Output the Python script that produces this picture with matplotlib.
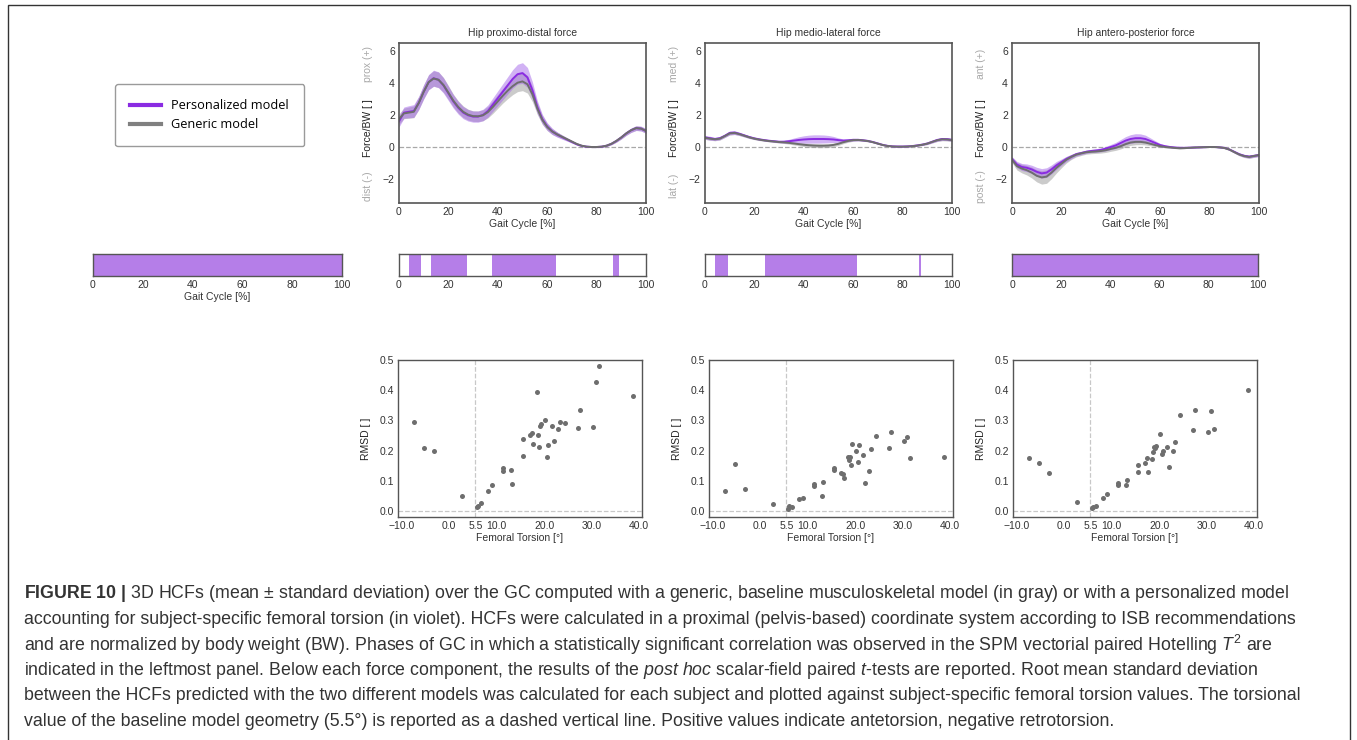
import numpy as np
import matplotlib
matplotlib.use('Agg')
import matplotlib.pyplot as plt
from matplotlib.lines import Line2D
from matplotlib.patches import Rectangle

plt.rcParams['font.family'] = ['Liberation Sans', 'DejaVu Sans']
plt.rcParams['mathtext.fontset'] = 'custom'
plt.rcParams['mathtext.rm'] = 'Liberation Sans'
plt.rcParams['mathtext.it'] = 'Liberation Sans:italic'
plt.rcParams['mathtext.bf'] = 'Liberation Sans:bold'

# gait cycle grid [%]
gait = np.arange(0, 101, 2)

# hip proximo-distal force (mean / sd), personalized and generic
pd_pers_mean = [1.60, 2.15, 2.20, 2.25, 2.75, 3.45, 4.05, 4.30, 4.20, 3.85,
                3.35, 2.85, 2.45, 2.15, 1.98, 1.90, 1.90, 2.00, 2.25, 2.65,
                3.05, 3.45, 3.85, 4.25, 4.55, 4.62, 4.35, 3.55, 2.50, 1.75,
                1.28, 0.98, 0.78, 0.62, 0.47, 0.32, 0.17, 0.07, 0.02, 0.00,
                0.00, 0.02, 0.08, 0.20, 0.38, 0.60, 0.85, 1.05, 1.18, 1.15, 1.00]
pd_pers_sd = [0.35, 0.35, 0.38, 0.40, 0.42, 0.45, 0.48, 0.50, 0.50, 0.48,
              0.45, 0.42, 0.40, 0.38, 0.36, 0.35, 0.35, 0.36, 0.38, 0.42,
              0.46, 0.50, 0.54, 0.58, 0.62, 0.65, 0.62, 0.52, 0.40, 0.30,
              0.24, 0.20, 0.16, 0.13, 0.10, 0.08, 0.06, 0.05, 0.04, 0.04,
              0.04, 0.04, 0.05, 0.06, 0.08, 0.10, 0.12, 0.14, 0.15, 0.15, 0.15]
pd_gen_mean = [1.75, 2.10, 2.15, 2.20, 2.75, 3.45, 4.05, 4.28, 4.20, 3.88,
               3.40, 2.90, 2.50, 2.20, 2.02, 1.93, 1.92, 1.98, 2.18, 2.50,
               2.85, 3.20, 3.52, 3.80, 4.02, 4.10, 3.92, 3.30, 2.40, 1.70,
               1.25, 0.97, 0.79, 0.64, 0.49, 0.34, 0.19, 0.08, 0.02, 0.00,
               0.00, 0.02, 0.08, 0.20, 0.38, 0.60, 0.85, 1.05, 1.18, 1.15, 1.00]
pd_gen_sd = [0.32, 0.33, 0.35, 0.37, 0.40, 0.43, 0.46, 0.48, 0.48, 0.46,
             0.43, 0.40, 0.38, 0.36, 0.34, 0.33, 0.33, 0.34, 0.36, 0.40,
             0.43, 0.46, 0.50, 0.53, 0.56, 0.58, 0.55, 0.47, 0.37, 0.28,
             0.22, 0.18, 0.15, 0.12, 0.10, 0.08, 0.06, 0.05, 0.04, 0.04,
             0.04, 0.04, 0.05, 0.06, 0.08, 0.10, 0.12, 0.13, 0.14, 0.14, 0.14]

# hip medio-lateral force
ml_pers_mean = [0.60, 0.55, 0.50, 0.55, 0.70, 0.88, 0.90, 0.82, 0.72, 0.62,
                0.54, 0.48, 0.43, 0.39, 0.36, 0.33, 0.33, 0.36, 0.40, 0.44,
                0.47, 0.49, 0.50, 0.50, 0.50, 0.49, 0.47, 0.43, 0.40, 0.42,
                0.45, 0.45, 0.42, 0.38, 0.31, 0.22, 0.13, 0.07, 0.04, 0.03,
                0.03, 0.04, 0.06, 0.10, 0.15, 0.22, 0.33, 0.44, 0.50, 0.49, 0.45]
ml_pers_sd = [0.12, 0.12, 0.10, 0.10, 0.10, 0.12, 0.12, 0.10, 0.09, 0.08,
              0.07, 0.06, 0.06, 0.06, 0.06, 0.07, 0.09, 0.12, 0.16, 0.20,
              0.23, 0.25, 0.26, 0.26, 0.25, 0.23, 0.19, 0.14, 0.10, 0.09,
              0.08, 0.07, 0.06, 0.05, 0.04, 0.04, 0.03, 0.03, 0.03, 0.03,
              0.03, 0.03, 0.03, 0.04, 0.05, 0.06, 0.07, 0.08, 0.09, 0.09, 0.09]
ml_gen_mean = [0.58, 0.52, 0.48, 0.52, 0.68, 0.85, 0.88, 0.80, 0.70, 0.60,
               0.52, 0.46, 0.41, 0.37, 0.34, 0.31, 0.29, 0.26, 0.22, 0.18,
               0.14, 0.11, 0.09, 0.08, 0.08, 0.09, 0.13, 0.20, 0.30, 0.38,
               0.43, 0.44, 0.41, 0.37, 0.30, 0.21, 0.12, 0.06, 0.03, 0.02,
               0.02, 0.03, 0.05, 0.09, 0.14, 0.21, 0.32, 0.42, 0.48, 0.47, 0.43]
ml_gen_sd = [0.10, 0.10, 0.09, 0.09, 0.09, 0.10, 0.10, 0.09, 0.08, 0.07,
             0.06, 0.06, 0.05, 0.05, 0.05, 0.06, 0.07, 0.08, 0.09, 0.10,
             0.11, 0.12, 0.12, 0.12, 0.12, 0.12, 0.11, 0.10, 0.09, 0.08,
             0.07, 0.06, 0.05, 0.05, 0.04, 0.04, 0.03, 0.03, 0.03, 0.03,
             0.03, 0.03, 0.03, 0.04, 0.05, 0.06, 0.07, 0.08, 0.09, 0.09, 0.09]

# hip antero-posterior force
ap_pers_mean = [-0.75, -1.10, -1.25, -1.30, -1.40, -1.55, -1.65, -1.60, -1.40, -1.15,
                -0.95, -0.75, -0.60, -0.45, -0.38, -0.30, -0.25, -0.22, -0.18, -0.10,
                0.00, 0.10, 0.25, 0.40, 0.50, 0.55, 0.55, 0.50, 0.38, 0.25,
                0.12, 0.05, 0.00, -0.03, -0.05, -0.05, -0.04, -0.03, -0.02, -0.01,
                0.00, 0.00, -0.02, -0.05, -0.15, -0.30, -0.45, -0.55, -0.60, -0.55, -0.50]
ap_pers_sd = [0.15, 0.20, 0.22, 0.24, 0.26, 0.28, 0.30, 0.30, 0.28, 0.25,
              0.20, 0.16, 0.13, 0.11, 0.10, 0.10, 0.10, 0.11, 0.12, 0.14,
              0.16, 0.19, 0.22, 0.25, 0.27, 0.28, 0.27, 0.24, 0.19, 0.14,
              0.10, 0.07, 0.05, 0.04, 0.04, 0.03, 0.03, 0.03, 0.03, 0.03,
              0.03, 0.03, 0.04, 0.05, 0.06, 0.07, 0.08, 0.09, 0.09, 0.09, 0.09]
ap_gen_mean = [-0.80, -1.20, -1.35, -1.45, -1.60, -1.80, -1.90, -1.85, -1.60, -1.30,
               -1.05, -0.80, -0.62, -0.48, -0.40, -0.33, -0.30, -0.28, -0.25, -0.20,
               -0.12, -0.05, 0.05, 0.18, 0.28, 0.32, 0.32, 0.28, 0.20, 0.12,
               0.05, 0.00, -0.03, -0.06, -0.08, -0.07, -0.05, -0.03, -0.02, -0.01,
               0.00, 0.00, -0.02, -0.06, -0.16, -0.32, -0.47, -0.57, -0.62, -0.56, -0.50]
ap_gen_sd = [0.18, 0.24, 0.27, 0.30, 0.34, 0.38, 0.42, 0.42, 0.38, 0.32,
             0.25, 0.20, 0.16, 0.14, 0.13, 0.12, 0.12, 0.12, 0.13, 0.14,
             0.15, 0.16, 0.17, 0.18, 0.18, 0.18, 0.17, 0.15, 0.12, 0.09,
             0.07, 0.05, 0.04, 0.04, 0.04, 0.03, 0.03, 0.03, 0.03, 0.03,
             0.03, 0.03, 0.04, 0.05, 0.06, 0.07, 0.08, 0.09, 0.09, 0.09, 0.09]

titles = ['Hip proximo-distal force', 'Hip medio-lateral force', 'Hip antero-posterior force']
dir_pos = ['prox (+)', 'med (+)', 'ant (+)']
dir_neg = ['dist (-)', 'lat (-)', 'post (-)']

# significant phases [% GC] (SPM)
sig_hotelling = [(0, 100)]
sig_pd = [(3.9, 8.8), (13.0, 27.5), (37.5, 63.7), (86.7, 88.9)]
sig_ml = [(4.2, 9.4), (24.2, 61.7), (86.7, 87.3)]
sig_ap = [(0, 100)]

# femoral torsion [deg] and RMSD per subject
torsion = [-7.4, -5.3, -3.3, 2.7, 5.8, 6.1, 6.6, 8.1, 9.1, 11.3,
           11.4, 12.9, 13.2, 15.5, 15.6, 17.0, 17.5, 17.6, 18.5, 18.6,
           18.8, 19.1, 19.4, 20.1, 20.5, 20.9, 21.7, 22.1, 22.8, 23.4,
           24.3, 27.1, 27.6, 30.2, 31.0, 31.5, 38.8]
rmsd_pd = [0.296, 0.208, 0.199, 0.048, 0.012, 0.017, 0.026, 0.067, 0.087, 0.142,
           0.133, 0.137, 0.090, 0.182, 0.239, 0.250, 0.259, 0.222, 0.393, 0.252,
           0.212, 0.282, 0.289, 0.301, 0.180, 0.219, 0.280, 0.231, 0.271, 0.294,
           0.290, 0.274, 0.333, 0.277, 0.426, 0.480, 0.381]
rmsd_ml = [0.066, 0.157, 0.072, 0.023, 0.008, 0.016, 0.014, 0.041, 0.043, 0.083,
           0.089, 0.049, 0.096, 0.136, 0.143, 0.127, 0.121, 0.110, 0.179, 0.168,
           0.179, 0.152, 0.221, 0.199, 0.161, 0.217, 0.184, 0.092, 0.132, 0.204,
           0.249, 0.210, 0.263, 0.232, 0.246, 0.177, 0.179]
rmsd_ap = [0.177, 0.158, 0.126, 0.031, 0.009, 0.013, 0.017, 0.044, 0.056, 0.091,
           0.086, 0.086, 0.103, 0.130, 0.152, 0.158, 0.177, 0.128, 0.171, 0.196,
           0.213, 0.208, 0.216, 0.254, 0.190, 0.199, 0.212, 0.146, 0.200, 0.228,
           0.319, 0.269, 0.336, 0.263, 0.330, 0.271, 0.400]
baseline_torsion = 5.5
torsion_ticks = [-10, 0, 5.5, 10, 20, 30, 40]
torsion_labels = ['\u221210.0', '0.0', '5.5', '10.0', '20.0', '30.0', '40.0']

caption = [
    r'$\mathbf{FIGURE\ 10\ |}$ 3D HCFs (mean ± standard deviation) over the GC computed with a generic, baseline musculoskeletal model (in gray) or with a personalized model',
    'accounting for subject-specific femoral torsion (in violet). HCFs were calculated in a proximal (pelvis-based) coordinate system according to ISB recommendations',
    r'and are normalized by body weight (BW). Phases of GC in which a statistically significant correlation was observed in the SPM vectorial paired Hotelling $T^2$ are',
    r'indicated in the leftmost panel. Below each force component, the results of the $\mathit{post\ hoc}$ scalar-field paired $\mathit{t}$-tests are reported. Root mean standard deviation',
    'between the HCFs predicted with the two different models was calculated for each subject and plotted against subject-specific femoral torsion values. The torsional',
    'value of the baseline model geometry (5.5°) is reported as a dashed vertical line. Positive values indicate antetorsion, negative retrotorsion.',
]

PURPLE = '#8a2be2'
PURPLE_BAND = '#a466ea'
GRAY = '#6e6e6e'
GRAY_BAND = '#999999'
SIG = '#b57ee8'
SPINE = '#555555'
TXT = '#333333'

W, H = 1357, 740
fig = plt.figure(figsize=(W / 100, H / 100), dpi=100)


def rect(x0, y0, x1, y1):
    # pixel box (top-left origin) -> figure fraction
    return [x0 / W, 1 - y1 / H, (x1 - x0) / W, (y1 - y0) / H]


def style(ax, lw=1.2):
    for s in ax.spines.values():
        s.set_color(SPINE)
        s.set_linewidth(lw)
    ax.tick_params(length=0, labelsize=7.5, colors=TXT, pad=3)


forces = [
    (pd_pers_mean, pd_pers_sd, pd_gen_mean, pd_gen_sd),
    (ml_pers_mean, ml_pers_sd, ml_gen_mean, ml_gen_sd),
    (ap_pers_mean, ap_pers_sd, ap_gen_mean, ap_gen_sd),
]
col_left = [399, 705, 1012]

# --- force curves
for i, (pm, ps, gm, gs) in enumerate(forces):
    pm, ps, gm, gs = map(np.asarray, (pm, ps, gm, gs))
    ax = fig.add_axes(rect(col_left[i], 43, col_left[i] + 247, 203))
    ax.axhline(0, color='#a8a8a8', ls='--', lw=0.9, zorder=0)
    ax.fill_between(gait, gm - gs, gm + gs, color=GRAY_BAND, alpha=0.5, lw=0)
    ax.fill_between(gait, pm - ps, pm + ps, color=PURPLE_BAND, alpha=0.5, lw=0)
    ax.plot(gait, pm, color=PURPLE, lw=1.4)
    ax.plot(gait, gm, color=GRAY, lw=1.4)
    ax.set_xlim(0, 100)
    ax.set_ylim(-3.5, 6.5)
    ax.set_xticks([0, 20, 40, 60, 80, 100])
    ax.set_yticks([-2, 0, 2, 4, 6])
    ax.set_yticklabels(['\u22122', '0', '2', '4', '6'])
    style(ax)
    ax.set_title(titles[i], fontsize=7.5, color=TXT, pad=5)
    ax.set_xlabel('Gait Cycle [%]', fontsize=7.5, color=TXT, labelpad=1)
    ax.text(-0.125, 0.47, 'Force/BW [ ]', transform=ax.transAxes, rotation=90,
            ha='center', va='center', fontsize=7.5, color='#222222')
    ax.text(-0.125, 0.87, dir_pos[i], transform=ax.transAxes, rotation=90,
            ha='center', va='center', fontsize=7.5, color='#a8a8a8')
    ax.text(-0.125, 0.105, dir_neg[i], transform=ax.transAxes, rotation=90,
            ha='center', va='center', fontsize=7.5, color='#a8a8a8')

# --- SPM significance bars
bars = [(93, 342, sig_hotelling), (399, 646, sig_pd), (705, 952, sig_ml), (1012, 1258, sig_ap)]
for j, (x0, x1, spans) in enumerate(bars):
    bax = fig.add_axes(rect(x0, 254, x1, 276))
    for a, b in spans:
        bax.axvspan(a, b, color=SIG, lw=0)
    bax.set_xlim(0, 100)
    bax.set_ylim(0, 1)
    bax.set_yticks([])
    bax.set_xticks([0, 20, 40, 60, 80, 100])
    style(bax, lw=1.0)
    if j == 0:
        bax.set_xlabel('Gait Cycle [%]', fontsize=7.5, color=TXT, labelpad=1)

# --- RMSD vs femoral torsion
scat_left = [398, 709, 1013]
for i, rm in enumerate([rmsd_pd, rmsd_ml, rmsd_ap]):
    sax = fig.add_axes(rect(scat_left[i], 360, scat_left[i] + 244, 517))
    sax.axvline(baseline_torsion, color='#c8c8c8', ls='--', lw=0.9, zorder=0)
    sax.axhline(0, color='#c8c8c8', ls='--', lw=0.9, zorder=0)
    sax.scatter(torsion, rm, s=13, color=GRAY, lw=0, zorder=3)
    sax.set_xlim(-10.8, 40.6)
    sax.set_ylim(-0.02, 0.5)
    sax.set_xticks(torsion_ticks)
    sax.set_xticklabels(torsion_labels)
    sax.set_yticks([0, 0.1, 0.2, 0.3, 0.4, 0.5])
    sax.set_yticklabels(['0.0', '0.1', '0.2', '0.3', '0.4', '0.5'])
    style(sax, lw=1.0)
    sax.set_xlabel('Femoral Torsion [°]', fontsize=7.5, color=TXT, labelpad=1)
    sax.set_ylabel('RMSD [ ]', fontsize=7.5, color='#222222', labelpad=6)

# --- legend
handles = [Line2D([], [], color=PURPLE, lw=3), Line2D([], [], color='#808080', lw=3)]
fig.legend(handles, ['Personalized model', 'Generic model'], loc='upper left',
           bbox_to_anchor=(115 / W, 1 - 84 / H), frameon=True, fancybox=True,
           edgecolor='#9a9a9a', facecolor='white', framealpha=1,
           prop={'family': 'Open Sans', 'size': 9.2}, handlelength=2.4,
           borderpad=1.2, labelspacing=0.45, borderaxespad=0, handletextpad=0.8)

# --- caption
for k, line in enumerate(caption):
    fig.text(24 / W, 1 - (594 + 25.4 * k) / H, line, fontsize=12.8, color=TXT,
             ha='left', va='center')

# outer frame
fig.patches.append(Rectangle((8 / W, -0.05), (1350 - 8) / W, 1.05 - 5 / H,
                             transform=fig.transFigure, fill=False,
                             edgecolor='#333333', lw=1.0))

fig.savefig('out.png', dpi=100)
